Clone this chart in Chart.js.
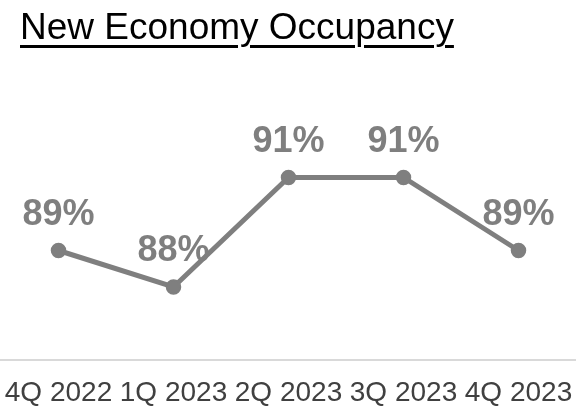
<!DOCTYPE html>
<html>
<head>
<meta charset="utf-8">
<script src="https://cdn.jsdelivr.net/npm/chart.js@4.4.1/dist/chart.umd.min.js"></script>
<style>
  html, body { margin: 0; padding: 0; background: #fff; }
  #wrap { position: relative; width: 576px; height: 406px; overflow: hidden; }
  #title { position: absolute; left: 20px; top: 8px; font-family: "Liberation Sans", Arial, sans-serif;
           font-size: 37px; line-height: 37px; color: #000; text-decoration: underline;
           text-decoration-thickness: 2.5px; text-underline-offset: 5.5px; white-space: nowrap; z-index: 2; }
  canvas { position: absolute; left: 0; top: 0; }
</style>
</head>
<body>
<div id="wrap">
  <div id="title">New Economy Occupancy</div>
  <canvas id="c" width="576" height="406"></canvas>
</div>
<script>
const categories = ["4Q 2022", "1Q 2023", "2Q 2023", "3Q 2023", "4Q 2023"];
const occupancy = [89, 88, 91, 91, 89];
const valueLabels = ["89%", "88%", "91%", "91%", "89%"];

const labelPlugin = {
  id: 'valueLabels',
  afterDatasetsDraw(chart) {
    const ctx = chart.ctx;
    const meta = chart.getDatasetMeta(0);
    ctx.save();
    ctx.font = 'bold 36px "Liberation Sans", Arial, sans-serif';
    ctx.fillStyle = '#7f7f7f';
    ctx.textAlign = 'center';
    ctx.textBaseline = 'alphabetic';
    meta.data.forEach((pt, i) => {
      ctx.fillText(valueLabels[i], pt.x, pt.y - 26);
    });
    ctx.restore();
  }
};

new Chart(document.getElementById('c'), {
  type: 'line',
  data: {
    labels: categories,
    datasets: [{
      data: occupancy,
      borderColor: '#7f7f7f',
      backgroundColor: '#7f7f7f',
      borderWidth: 5,
      pointRadius: 7,
      pointHoverRadius: 7,
      pointBorderWidth: 1.5,
      pointBackgroundColor: '#7f7f7f',
      pointBorderColor: '#7f7f7f',
      tension: 0,
      clip: false
    }]
  },
  options: {
    responsive: false,
    animation: false,
    layout: { autoPadding: false, padding: { top: 68, left: 1, right: 0, bottom: 0 } },
    plugins: { legend: { display: false }, tooltip: { enabled: false } },
    scales: {
      x: {
        offset: true,
        grid: { display: false },
        border: { display: true, color: '#d9d9d9', width: 2 },
        ticks: {
          color: '#404040',
          font: { family: '"Liberation Sans", Arial, sans-serif', size: 28 },
          autoSkip: false, maxRotation: 0, minRotation: 0, padding: 8
        },
        afterFit(scale) {
          scale.height = 46;
          scale.paddingLeft = 0;
          scale.paddingRight = 0;
        }
      },
      y: { display: false, min: 86, max: 94 }
    }
  },
  plugins: [labelPlugin]
});
</script>
</body>
</html>
